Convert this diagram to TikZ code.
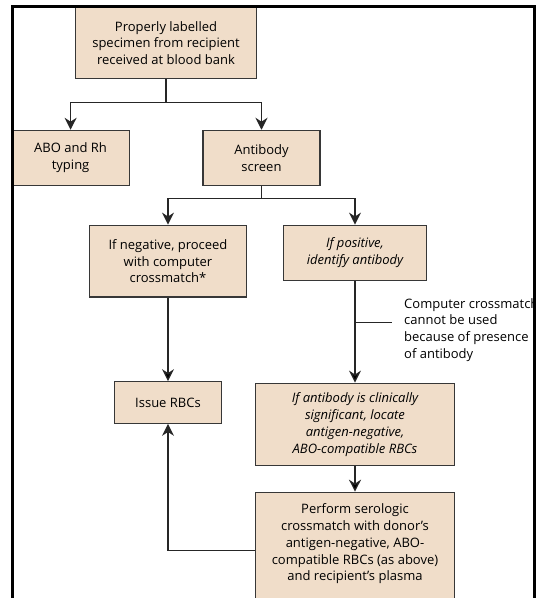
\documentclass[tikz,border=0pt]{standalone}
\usepackage{fontspec}
\setmainfont{Open Sans}
\usepackage{tikz}
\usetikzlibrary{calc, arrows.meta, positioning}

\definecolor{boxfill}{RGB}{240,221,201}
\definecolor{boxline}{RGB}{55,55,55}

\begin{document}
\begin{tikzpicture}[x=1pt, y=-1pt, >={Stealth[length=12pt, width=12pt]}, font=\fontsize{13}{16.8}\selectfont]
				\tikzstyle{box} = [draw=boxline, fill=boxfill, line width=1.2pt, align=center, inner sep=0pt]
				\tikzstyle{invis} = [draw=none, align=left, inner sep=0pt]
				\tikzstyle{link} = [draw=black!85, line width=1.3pt]
				
				\useasboundingbox (0, 0) rectangle (536, 598);
				\clip (0, 0) rectangle (536, 598);
				
				\node[box, minimum width=180.5pt, minimum height=71pt] 	at (166, 43) 		(spec) 	{Properly labelled\\specimen from recipient\\received at blood bank};
				\node[box, minimum width=117pt, minimum height=55.3pt] 	at (70.6, 158) 		(typing) 	{ABO and Rh\\typing};
				\node[box, minimum width=117pt, minimum height=55.3pt] 	at (261.5, 158) 	(screen) 	{Antibody\\screen};
				\node[box, minimum width=156.6pt, minimum height=71.8pt] 	at (168, 261.1) 	(neg) 	{If negative, proceed\\with computer\\crossmatch*};
				\node[box, minimum width=143.6pt, minimum height=55.4pt] 	at (355, 252.9) 	(pos) 	{\itshape If positive,\\\itshape identify antibody};
				\node[box, minimum width=107.7pt, minimum height=41.5pt] 	at (168, 402.5) 	(issue) 	{Issue RBCs};
				\node[box, minimum width=198.3pt, minimum height=82.4pt] 	at (355, 424.4) 	(locate) 	{\itshape If antibody is clinically\\\itshape significant, locate\\\itshape antigen-negative,\\\itshape ABO-compatible RBCs};
				\node[box, minimum width=198.3pt, minimum height=116.8pt] 	at (355, 550.7) 	(serol) 	{Perform serologic\\crossmatch with donor's\\antigen-negative, ABO-\\compatible RBCs (as above)\\and recipient's plasma\\~};
				\node[invis, anchor=west]	at (404, 330)	(note)	{Computer crossmatch\\cannot be used\\because of presence\\of antibody};
				
				\coordinate (j1) at (166, 102.6);
				\coordinate (j2) at (261.5, 198.5);
				\coordinate (c1) at (355, 322.3);
				\coordinate (c2) at (391.5, 322.3);
				
				\path[link]
				(spec)	edge	(j1)
				(screen)	edge	(j2)
				(c1)	edge	(c2);
				\path[link, ->]
				(neg)	edge	(issue)
				(pos)	edge	(locate)
				(locate)	edge	(serol);
				\draw[link, ->] (j1) -| (typing);
				\draw[link, ->] (j1) -| (screen);
				\draw[link, ->] (j2) -| (neg);
				\draw[link, ->] (j2) -| (pos);
				\draw[link, ->] (serol) -| (issue);
				
				\draw[line width=3pt] (12.8, 600) -- (12.8, 6.7) -- (534.3, 6.7) -- (534.3, 600);
\end{tikzpicture}
\end{document}
